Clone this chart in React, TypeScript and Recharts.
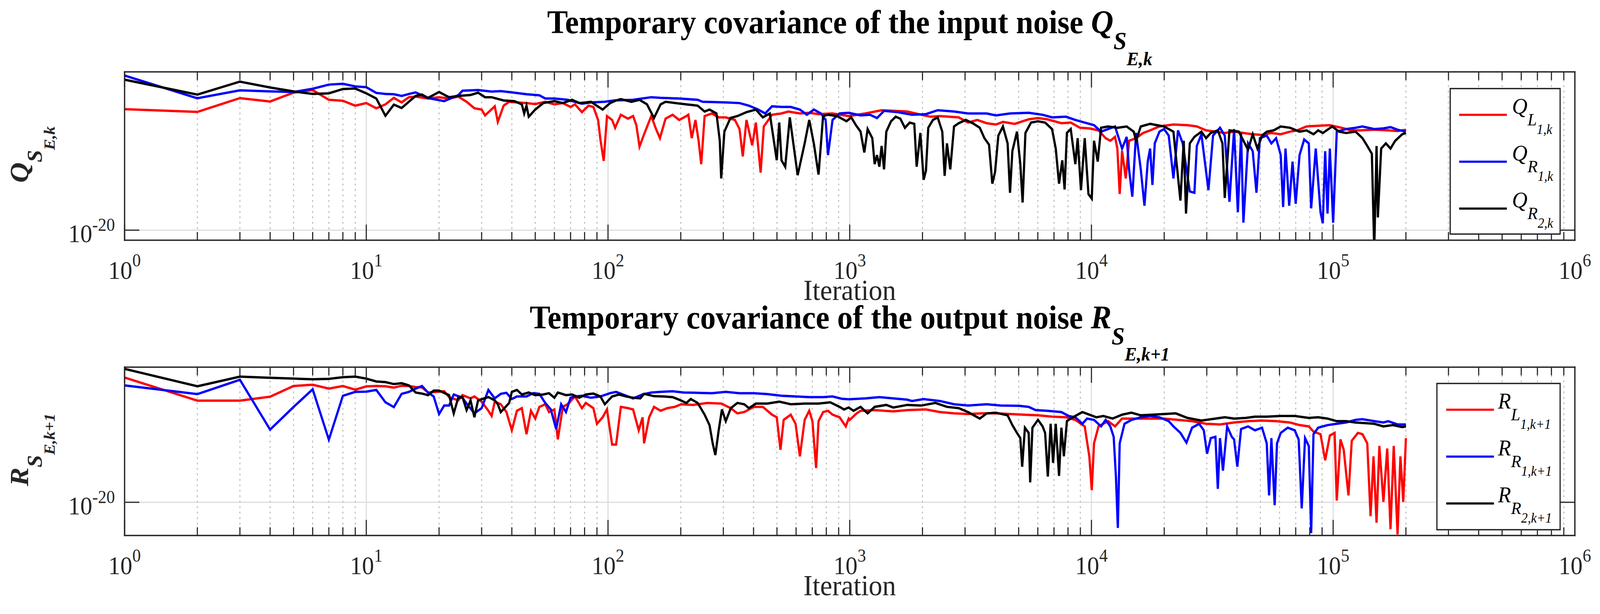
import React from 'react'
import { CartesianGrid, Legend, Line, LineChart, ReferenceLine, XAxis, YAxis } from 'recharts'

// [iteration, log10(value)]
type Pt = [number, number]

const xTicks = [
  1, 2, 3, 4, 5, 6, 7, 8, 9, 10, 20, 30, 40, 50, 60, 70, 80, 90, 100, 200, 300, 400, 500, 600, 700, 800, 900,
  1000, 2000, 3000, 4000, 5000, 6000, 7000, 8000, 9000, 10000, 20000, 30000, 40000, 50000, 60000, 70000, 80000,
  90000, 100000, 200000, 300000, 400000, 500000, 600000, 700000, 800000, 900000, 1000000,
]
const xMajor = [1, 10, 100, 1000, 10000, 100000, 1000000]
const xMajorLabels = ['0', '1', '2', '3', '4', '5', '6']
const xMinor = xTicks.filter((v) => !xMajor.includes(v))
const xInnerMajor = [10, 100, 1000, 10000, 100000]
const yTicks = [1e-20]
const yTickLabels = ['-20']
const qDomain = [Math.pow(10, -20.77), Math.pow(10, -7.82)]
const rDomain = [Math.pow(10, -22.55), Math.pow(10, -9.62)]

const qL1: Pt[] = [
  [1, -10.69], [2, -10.9], [3, -9.84], [4, -10.1], [5, -9.42], [6, -9.22], [7, -9.97], [8, -10.04], [9, -10.42],
  [10, -10.22], [11, -10.62], [12, -10.32], [13, -9.82], [14, -10.17], [15, -9.77], [16, -9.72], [18, -9.87],
  [20, -9.77], [22, -9.87], [24, -9.72], [26, -10.12], [28, -10.62], [30, -10.72], [31, -11.17], [34, -10.47],
  [35, -11.67], [37, -10.42], [39, -10.12], [42, -10.17], [46, -10.22], [50, -10.3], [55, -10.12], [60, -10.32],
  [65, -10.22], [70, -10.52], [73, -10.32], [78, -10.92], [83, -10.42], [87, -10.52], [91, -11.52], [93, -13.02],
  [96, -14.67], [99, -11.22], [104, -11.52], [107, -12.12], [113, -11.12], [121, -11.42], [127, -11.22],
  [131, -11.92], [135, -13.57], [141, -12.62], [151, -11.22], [158, -12.22], [164, -12.92], [173, -11.42],
  [185, -11.12], [197, -11.52], [211, -11.22], [215, -11.12], [222, -12.92], [230, -11.52], [237, -13.12],
  [243, -14.92], [251, -11.22], [269, -11.02], [287, -11.32], [307, -11.32], [335, -11.52], [350, -12.22],
  [361, -14.32], [374, -11.52], [395, -13.47], [409, -11.72], [428, -15.57], [441, -12.02], [457, -11.62],
  [477, -11.12], [522, -11.02], [557, -10.87], [622, -11.02], [680, -10.97], [743, -11.07], [849, -11.02],
  [990, -11.22], [1160, -11.02], [1355, -10.77], [1514, -10.82], [1730, -10.87], [1977, -11.12], [2162, -11.27],
  [2362, -11.22], [2824, -11.32], [3086, -11.72], [3372, -11.52], [3685, -11.77], [4027, -11.87], [4304, -11.67],
  [4812, -11.82], [5500, -11.47], [6010, -11.37], [6570, -11.47], [7510, -11.77], [8210, -11.72], [8970, -12.12],
  [9800, -12.17], [10700, -12.32], [11450, -12.92], [11970, -13.12], [12520, -12.82], [12800, -13.72],
  [13090, -17.22], [13390, -13.92], [13870, -16.02], [14310, -13.12], [15300, -12.92], [16360, -12.52],
  [17490, -12.32], [19110, -12.02], [21840, -11.87], [24960, -11.92], [27290, -12.02], [29810, -12.32],
  [32580, -12.42], [35610, -12.52], [38920, -12.42], [42530, -12.52], [46480, -12.62], [50800, -12.67],
  [55520, -12.52], [60680, -12.62], [66310, -12.42], [70970, -12.32], [77560, -12.02], [86700, -11.97],
  [96900, -11.92], [108300, -12.12], [118400, -12.32], [129400, -12.32], [147900, -12.27], [169000, -12.32],
  [184700, -12.37], [200000, -12.27],
]

const qR1: Pt[] = [
  [1, -8.1], [2, -9.85], [3, -9.24], [4, -9.32], [5, -9.37], [6, -9.12], [7, -8.8], [8, -8.74], [9, -8.94],
  [10, -9.0], [11, -9.44], [12, -9.52], [13, -9.54], [14, -9.67], [15, -9.52], [16, -9.4], [18, -9.84],
  [21, -10.07], [24, -9.62], [25, -9.27], [29, -9.22], [33, -9.34], [36, -9.3], [40, -9.4], [46, -9.54],
  [52, -9.62], [55, -9.87], [60, -9.87], [68, -9.97], [78, -10.27], [85, -10.17], [97, -10.12], [106, -10.02],
  [127, -9.97], [151, -9.77], [165, -9.82], [197, -9.87], [235, -9.97], [246, -10.12], [307, -10.17],
  [350, -10.22], [383, -10.42], [418, -10.72], [447, -11.02], [477, -10.47], [522, -10.52], [570, -10.52],
  [622, -10.72], [665, -11.12], [711, -10.72], [760, -11.02], [795, -11.52], [813, -14.22], [849, -11.52],
  [908, -11.02], [990, -10.97], [1109, -11.17], [1213, -11.12], [1297, -11.37], [1387, -10.82], [1583, -10.92],
  [1809, -11.12], [2067, -11.07], [2311, -10.77], [2701, -10.87], [3086, -11.02], [3685, -11.02], [4027, -11.17],
  [4604, -11.02], [5500, -10.97], [6280, -11.12], [6870, -11.32], [7850, -11.27], [8580, -11.52], [9380, -11.72],
  [10250, -11.92], [10960, -12.42], [11720, -12.22], [12520, -12.02], [13390, -13.72], [13990, -12.82],
  [14310, -15.32], [14760, -17.42], [15300, -12.52], [16000, -15.32], [16570, -18.12], [17100, -14.72],
  [17490, -13.72], [17880, -16.52], [18280, -13.32], [19110, -12.42], [19970, -12.22], [20880, -12.72],
  [21840, -16.02], [22810, -12.32], [23860, -13.32], [25520, -17.02], [26670, -17.12], [27290, -13.52],
  [28510, -12.62], [30480, -16.92], [31850, -12.72], [34040, -12.12], [35610, -12.72], [37240, -17.82],
  [38920, -12.22], [40340, -18.62], [41590, -12.52], [42530, -19.42], [44460, -13.32], [46480, -13.92],
  [48170, -17.12], [49760, -12.92], [53120, -12.72], [55520, -13.32], [58070, -12.92], [60680, -14.22],
  [62100, -18.22], [63510, -13.72], [65790, -18.12], [67920, -14.72], [69980, -17.97], [72610, -14.22],
  [75870, -13.02], [79290, -13.32], [81100, -18.32], [84730, -13.72], [88660, -18.62], [90600, -19.47],
  [92690, -13.92], [94780, -18.72], [96900, -13.72], [100000, -19.42], [103500, -12.42], [113200, -12.22],
  [123800, -12.12], [132200, -12.02], [147900, -12.22], [161400, -12.17], [172700, -12.07], [184700, -12.27],
  [200000, -12.42],
]

const qR2: Pt[] = [
  [1, -8.42], [2, -9.57], [3, -8.57], [4, -9.02], [5, -9.32], [6, -9.52], [7, -9.47], [8, -9.14], [9, -9.1],
  [10, -9.47], [11, -9.87], [12, -11.2], [13, -10.34], [14, -10.6], [15, -10.12], [16, -9.67], [17, -9.57],
  [18, -9.82], [20, -9.37], [22, -9.77], [24, -9.67], [27, -9.6], [29, -9.42], [31, -9.77], [33, -9.77],
  [37, -10.02], [41, -10.07], [44, -10.32], [45, -11.02], [46, -10.42], [47, -11.27], [50, -10.72], [54, -10.22],
  [60, -10.07], [65, -10.22], [71, -9.97], [76, -10.22], [81, -10.17], [85, -10.12], [95, -10.72], [102, -10.22],
  [108, -10.02], [113, -9.92], [125, -10.12], [135, -9.97], [145, -10.32], [155, -11.37], [165, -10.32],
  [173, -10.12], [190, -10.22], [211, -10.32], [235, -10.42], [251, -10.87], [263, -10.72], [281, -11.02],
  [290, -13.12], [294, -16.02], [303, -12.42], [321, -11.37], [343, -11.22], [374, -10.92], [409, -10.72],
  [437, -11.32], [467, -11.02], [499, -14.62], [511, -11.72], [522, -14.62], [541, -15.12], [565, -11.32],
  [609, -15.77], [651, -13.32], [680, -11.52], [711, -13.37], [743, -15.72], [776, -11.22], [813, -11.12],
  [887, -11.22], [970, -11.62], [1014, -11.32], [1061, -11.92], [1109, -12.42], [1149, -14.02], [1186, -12.22],
  [1240, -12.92], [1268, -14.92], [1297, -14.22], [1326, -15.12], [1355, -13.52], [1387, -15.32], [1417, -12.42],
  [1482, -11.62], [1549, -11.27], [1619, -11.42], [1692, -12.12], [1770, -11.72], [1850, -11.82], [1892, -15.12],
  [1960, -12.52], [2022, -16.12], [2067, -15.42], [2113, -12.12], [2209, -11.52], [2311, -11.32], [2415, -12.42],
  [2470, -15.82], [2525, -13.32], [2606, -15.32], [2701, -12.02], [2824, -11.77], [3021, -11.52], [3228, -11.77],
  [3452, -12.12], [3608, -12.92], [3770, -13.42], [3890, -16.42], [3993, -15.52], [4120, -12.72], [4304, -12.02],
  [4500, -13.32], [4604, -17.12], [4708, -13.92], [4920, -12.42], [5079, -14.92], [5191, -17.87], [5332, -12.52],
  [5625, -11.72], [6010, -11.62], [6432, -11.72], [6870, -12.22], [7118, -13.72], [7345, -16.42], [7576, -14.62],
  [7744, -16.87], [7915, -12.52], [8210, -12.22], [8580, -14.92], [8770, -12.92], [9050, -16.92], [9380, -12.92],
  [9720, -17.22], [10030, -17.57], [10250, -13.12], [10620, -14.72], [10960, -12.12], [11720, -12.02],
  [12800, -12.12], [13990, -12.02], [14960, -12.42], [15300, -13.12], [16000, -12.02], [17490, -11.82],
  [18680, -11.92], [19970, -12.02], [21840, -12.42], [22330, -14.22], [23340, -17.72], [24090, -13.12],
  [24620, -18.72], [25520, -13.32], [26670, -12.82], [28510, -12.42], [29810, -12.92], [31170, -12.52],
  [33330, -12.32], [34840, -13.32], [35610, -17.52], [37240, -12.32], [40710, -12.42], [44460, -13.82],
  [46480, -12.62], [48620, -13.72], [50800, -12.72], [53120, -12.42], [56760, -12.32], [60680, -12.02],
  [66310, -12.12], [72610, -12.42], [77560, -12.32], [82920, -12.62], [86700, -12.32], [90600, -12.52],
  [99100, -12.02], [105900, -12.42], [113200, -12.52], [123800, -12.42], [132200, -12.92], [138400, -13.52],
  [144600, -14.12], [147900, -21.5], [151200, -13.52], [153100, -19.02], [158000, -13.72], [165200, -13.32],
  [172700, -13.72], [180600, -13.12], [193100, -12.62], [200000, -12.52],
]

const rL1: Pt[] = [
  [1, -10.42], [2, -12.19], [3, -12.19], [4, -11.89], [5, -11.07], [6, -10.97], [7, -11.27], [8, -11.07],
  [9, -11.35], [10, -11.1], [11, -11.07], [12, -11.09], [13, -11.19], [14, -11.05], [15, -11.07], [16, -11.15],
  [17, -11.17], [18, -11.57], [21, -11.47], [22, -11.92], [24, -12.17], [25, -11.77], [27, -12.02], [28, -11.87],
  [30, -12.27], [32, -12.97], [33, -13.37], [34, -12.27], [36, -12.47], [38, -13.07], [40, -14.47], [42, -12.97],
  [44, -12.77], [46, -14.77], [48, -12.97], [50, -13.57], [52, -12.67], [55, -12.47], [57, -13.07], [60, -12.87],
  [62, -15.17], [65, -12.67], [68, -12.47], [73, -11.87], [78, -12.77], [81, -12.37], [87, -12.77], [90, -13.97],
  [95, -13.47], [99, -12.87], [104, -15.57], [108, -15.57], [113, -12.67], [121, -12.77], [127, -12.87],
  [134, -14.47], [139, -13.47], [141, -15.47], [148, -13.47], [155, -12.67], [165, -12.97], [176, -12.77],
  [189, -12.67], [201, -12.47], [225, -12.52], [257, -12.37], [294, -12.42], [322, -12.77], [343, -13.17],
  [366, -13.07], [401, -12.67], [437, -12.67], [477, -13.27], [499, -13.47], [517, -15.97], [533, -13.67],
  [570, -13.27], [597, -13.97], [622, -16.47], [651, -13.67], [680, -12.97], [701, -13.77], [726, -17.37],
  [743, -13.77], [776, -13.07], [813, -12.97], [849, -13.27], [908, -13.47], [963, -14.17], [990, -13.57],
  [1000, -13.67], [1068, -13.17], [1109, -12.97], [1268, -12.92], [1514, -13.02], [1730, -12.92], [2067, -12.87],
  [2362, -13.07], [2701, -13.17], [3086, -13.22], [3525, -13.17], [4027, -13.17], [4604, -13.22], [5260, -13.27],
  [6010, -13.32], [6870, -13.42], [7850, -13.47], [8580, -13.67], [9380, -14.17], [9800, -16.47], [10030, -19.07],
  [10250, -15.47], [10700, -14.17], [11720, -13.77], [12520, -14.17], [13390, -13.57], [15300, -13.57],
  [17490, -13.57], [19970, -13.57], [22810, -13.67], [26080, -13.77], [29810, -13.97], [34040, -14.02],
  [38920, -13.87], [44460, -13.77], [50800, -13.72], [58070, -13.77], [66310, -13.87], [72610, -14.07],
  [79290, -14.17], [82920, -14.57], [88660, -14.77], [92690, -16.77], [96900, -14.87], [101400, -14.67],
  [103500, -19.87], [107200, -15.17], [110600, -15.97], [115700, -19.47], [119400, -15.27], [126600, -14.67],
  [132200, -14.77], [138400, -15.47], [142800, -21.07], [146900, -16.47], [151200, -21.57], [155300, -15.67],
  [161400, -19.97], [167400, -15.87], [172700, -22.07], [178100, -15.67], [184700, -22.47], [189800, -16.47],
  [195000, -19.97], [200000, -15.07],
]

const rR1: Pt[] = [
  [1, -11.02], [2, -11.69], [3, -10.59], [4, -14.42], [5, -12.68], [6, -11.32], [7, -15.19], [8, -11.82],
  [9, -11.52], [10, -11.5], [11, -11.37], [12, -12.32], [13, -12.69], [14, -11.67], [15, -11.52], [16, -11.27],
  [17, -11.07], [18, -11.57], [19, -11.87], [20, -13.22], [21, -12.57], [22, -12.57], [23, -11.72], [25, -11.97],
  [26, -12.42], [28, -13.17], [30, -12.77], [32, -11.37], [34, -12.02], [36, -11.67], [38, -11.59], [40, -12.07],
  [42, -11.87], [46, -11.87], [49, -11.62], [52, -11.67], [55, -12.37], [58, -12.87], [61, -14.37], [64, -12.47],
  [67, -13.07], [70, -11.97], [73, -11.87], [78, -11.82], [85, -11.97], [93, -11.87], [102, -11.62], [108, -11.52],
  [117, -11.77], [127, -12.02], [139, -11.72], [151, -11.57], [165, -11.52], [185, -11.47], [206, -11.57],
  [235, -11.59], [269, -11.62], [307, -11.52], [350, -11.62], [401, -11.62], [457, -11.69], [522, -11.82],
  [597, -11.87], [680, -11.92], [776, -11.92], [849, -11.87], [928, -12.05], [990, -12.09], [1160, -12.02],
  [1326, -11.92], [1514, -12.02], [1730, -12.12], [1809, -12.22], [2022, -12.07], [2362, -12.22], [2701, -12.47],
  [3086, -12.57], [3685, -12.47], [4210, -12.57], [5030, -12.59], [5500, -12.67], [5876, -12.92], [6570, -12.97],
  [7510, -13.07], [8036, -13.37], [8580, -13.47], [9170, -13.97], [9590, -13.57], [10250, -13.67], [10960, -14.17],
  [11450, -13.67], [11970, -14.17], [12360, -14.97], [12630, -18.07], [12860, -21.97], [13090, -15.47],
  [13700, -13.97], [14640, -13.67], [16000, -13.47], [17490, -13.37], [19110, -13.47], [20880, -13.77],
  [21840, -14.17], [23340, -14.67], [24720, -15.42], [26080, -14.27], [27900, -13.97], [29160, -14.47],
  [30080, -16.27], [31170, -15.07], [32580, -14.97], [33330, -18.97], [34040, -15.07], [35000, -17.57],
  [36420, -14.17], [38080, -14.97], [38920, -15.17], [40140, -17.27], [41590, -14.37], [44460, -14.17],
  [47520, -14.47], [50800, -14.27], [53120, -15.47], [54330, -19.47], [55520, -15.07], [57280, -20.22],
  [58580, -15.47], [60680, -14.67], [64860, -14.27], [69340, -14.47], [72000, -15.17], [74130, -20.47],
  [76520, -15.07], [79290, -15.67], [81100, -22.37], [82920, -14.77], [86700, -14.27], [94780, -14.07],
  [103500, -13.97], [113200, -13.87], [123800, -13.67], [132200, -13.62], [147900, -13.77], [161400, -13.87],
  [169000, -13.77], [184700, -14.02], [200000, -14.02],
]

const rR2: Pt[] = [
  [1, -9.75], [2, -11.09], [3, -10.35], [4, -10.44], [5, -10.5], [6, -10.55], [7, -10.52], [8, -10.39],
  [9, -10.35], [10, -10.5], [11, -10.72], [12, -10.77], [13, -10.92], [14, -10.85], [15, -11.02], [16, -11.57],
  [17, -11.65], [18, -11.77], [19, -11.42], [20, -11.42], [22, -11.77], [23, -13.17], [24, -11.97], [25, -11.92],
  [26, -12.92], [27, -12.17], [28, -13.47], [29, -12.17], [32, -11.92], [34, -12.17], [35, -12.47], [36, -13.07],
  [39, -12.37], [40, -11.52], [42, -11.37], [44, -11.72], [47, -11.57], [50, -11.77], [54, -11.72], [57, -11.62],
  [60, -11.97], [62, -11.57], [67, -11.77], [71, -11.72], [76, -11.97], [81, -11.72], [87, -11.65], [93, -11.87],
  [97, -12.47], [104, -11.87], [111, -11.72], [119, -11.87], [127, -11.97], [136, -12.02], [141, -11.67],
  [155, -11.85], [169, -11.87], [185, -11.92], [197, -12.12], [211, -12.37], [220, -12.07], [235, -12.37],
  [251, -13.27], [263, -14.07], [271, -15.47], [278, -16.37], [287, -14.47], [296, -12.87], [307, -13.77],
  [322, -12.77], [343, -12.37], [366, -12.47], [383, -12.77], [409, -12.42], [457, -12.42], [511, -12.27],
  [570, -12.47], [651, -12.42], [743, -12.42], [831, -12.32], [908, -12.67], [947, -12.87], [990, -12.72],
  [1037, -12.97], [1109, -12.67], [1186, -13.17], [1268, -12.67], [1417, -12.52], [1514, -12.72], [1730, -12.52],
  [1977, -12.57], [2260, -12.37], [2525, -12.67], [2824, -12.77], [3086, -13.07], [3452, -13.57], [3685, -13.17],
  [4027, -13.12], [4500, -13.32], [4708, -14.07], [4920, -14.67], [5079, -15.07], [5170, -17.27], [5306, -14.27],
  [5500, -14.67], [5580, -18.47], [5700, -14.27], [6010, -13.67], [6280, -14.17], [6432, -14.67], [6600, -18.02],
  [6780, -13.97], [6940, -16.97], [7118, -13.97], [7345, -17.97], [7510, -14.27], [7690, -16.47], [7915, -13.77],
  [8210, -13.57], [8770, -13.27], [9170, -13.07], [9800, -13.27], [10480, -13.47], [11200, -13.37],
  [12240, -13.57], [13390, -13.27], [14640, -13.12], [16000, -13.32], [17880, -13.27], [19970, -13.22],
  [22330, -13.17], [24960, -13.52], [28510, -13.72], [32580, -13.57], [35610, -13.47], [38920, -13.57],
  [43480, -13.52], [47520, -13.42], [53120, -13.42], [60680, -13.37], [69340, -13.37], [79290, -13.52],
  [86700, -13.47], [94780, -13.57], [103500, -13.77], [113200, -13.77], [123800, -13.87], [135300, -13.92],
  [147900, -13.97], [161400, -14.17], [176600, -14.07], [193100, -14.22], [200000, -14.17],
]

const FONT = "'Liberation Serif', 'Times New Roman', Times, serif"
const AX = '#262626'

const rows = (pts: Pt[]) => pts.map(([it, lg]) => ({ it, v: Math.pow(10, lg) }))

function XTickBottom(props: any) {
  const { x, y, payload } = props
  const i = xMajor.indexOf(payload.value)
  return (
    <g>
      <line x1={x} x2={x} y1={y} y2={y - (i >= 0 ? 40 : 21)} stroke={AX} strokeWidth={3} />
      {i >= 0 && (
        <text x={x} y={y + 99} textAnchor="middle" fontFamily={FONT} fontSize={65} fill={AX}>
          10
          <tspan dy={-32} fontSize={46}>
            {xMajorLabels[i]}
          </tspan>
        </text>
      )}
    </g>
  )
}

function XTickTop(props: any) {
  const { x, y, payload } = props
  const major = xMajor.includes(payload.value)
  return <line x1={x} x2={x} y1={y} y2={y + (major ? 40 : 21)} stroke={AX} strokeWidth={3} />
}

function YTickLeft(props: any) {
  const { x, y, payload } = props
  const i = yTicks.indexOf(payload.value)
  return (
    <g>
      <line x1={x} x2={x + 40} y1={y} y2={y} stroke={AX} strokeWidth={3} />
      <text x={x - 26} y={y + 31} textAnchor="end" fontFamily={FONT} fontSize={65} fill={AX}>
        10
        <tspan dy={-29} fontSize={46}>
          {yTickLabels[i]}
        </tspan>
      </text>
    </g>
  )
}

function YTickRight(props: any) {
  const { x, y } = props
  return <line x1={x} x2={x - 40} y1={y} y2={y} stroke={AX} strokeWidth={3} />
}

const titleLabel = (kind: string, letter: string, sub2: string) => (p: any) => {
  const vb = p.viewBox || { x: 337, y: 174, width: 3923, height: 10 }
  return (
    <text
      x={vb.x + vb.width / 2}
      y={vb.y + vb.height - 99}
      textAnchor="middle"
      fontFamily={FONT}
      fontWeight="bold"
      fontSize={84}
      fill="#000"
    >
      {`Temporary covariance of the ${kind} noise `}
      <tspan fontStyle="italic">{letter}</tspan>
      <tspan fontStyle="italic" fontSize={64} dy={41}>
        S
      </tspan>
      <tspan fontStyle="italic" fontSize={49} dy={41}>
        {sub2}
      </tspan>
    </text>
  )
}

const yLabel = (letter: string, sub2: string) => (p: any) => {
  const vb = p.viewBox || { x: 217, y: 184, width: 120, height: 431 }
  const bx = vb.x - 141
  const cy = vb.y + vb.height / 2 - 4
  return (
    <text
      transform={`translate(${bx}, ${cy}) rotate(-90)`}
      textAnchor="middle"
      fontFamily={FONT}
      fontWeight="bold"
      fontStyle="italic"
      fontSize={72}
      fill={AX}
    >
      {letter}
      <tspan fontSize={57} dy={37}>
        S
      </tspan>
      <tspan fontSize={43} dy={35}>
        {sub2}
      </tspan>
    </text>
  )
}

const iterLabel = (p: any) => {
  const vb = p.viewBox || { x: 337, y: 615, width: 3923, height: 120 }
  return (
    <text x={vb.x + vb.width / 2} y={vb.y + 153} textAnchor="middle" fontFamily={FONT} fontSize={74} fill={AX}>
      Iteration
    </text>
  )
}

type LegendBox = { left: number; top: number; width: number; height: number; lineX1: number; lineX2: number; textX: number }

const makeLegend = (letter: string, subs: Record<string, [string, string]>, box: LegendBox) => (props: any) => {
  const payload = props.payload || []
  return (
    <svg width={box.width} height={box.height} style={{ display: 'block' }}>
      <rect x={1.75} y={1.75} width={box.width - 3.5} height={box.height - 3.5} fill="#fff" stroke={AX} strokeWidth={3.5} />
      {payload.map((e: any, i: number) => {
        const cy = 69 + i * 120
        const [s1, s2] = subs[e.value] || ['', '']
        return (
          <g key={e.value}>
            <line x1={box.lineX1} x2={box.lineX2} y1={cy} y2={cy} stroke={e.color} strokeWidth={5.5} />
            <text x={box.textX} y={cy - 3} fontFamily={FONT} fontStyle="italic" fontSize={58} fill="#000">
              {letter}
              <tspan fontSize={45} dy={30}>
                {s1}
              </tspan>
              <tspan fontSize={35} dy={22}>
                {s2}
              </tspan>
            </text>
          </g>
        )
      })}
    </svg>
  )
}

type Series = { name: string; color: string; pts: Pt[] }

const qSeries: Series[] = [
  { name: 'QL1', color: '#ff0000', pts: qL1 },
  { name: 'QR1', color: '#0000ff', pts: qR1 },
  { name: 'QR2', color: '#000000', pts: qR2 },
]
const rSeries: Series[] = [
  { name: 'RL1', color: '#ff0000', pts: rL1 },
  { name: 'RR1', color: '#0000ff', pts: rR1 },
  { name: 'RR2', color: '#000000', pts: rR2 },
]

const qSubs: Record<string, [string, string]> = { QL1: ['L', '1,k'], QR1: ['R', '1,k'], QR2: ['R', '2,k'] }
const rSubs: Record<string, [string, string]> = { RL1: ['L', '1,k+1'], RR1: ['R', '1,k+1'], RR2: ['R', '2,k+1'] }

type PanelProps = {
  offsetTop: number
  chartHeight: number
  kind: string
  letter: string
  sub2: string
  series: Series[]
  domain: number[]
  subs: Record<string, [string, string]>
  box: LegendBox
}

function Panel({ offsetTop, chartHeight, kind, letter, sub2, series, domain, subs, box }: PanelProps) {
  const axisLine = { stroke: AX, strokeWidth: 3.5, strokeLinecap: 'square' as const }
  return (
    <div style={{ position: 'absolute', left: 0, top: offsetTop }}>
      <LineChart width={4328} height={chartHeight} margin={{ top: 174, right: 58, bottom: chartHeight - 615 - 120, left: 217 }}>
        <CartesianGrid vertical={false} stroke="#dddddd" strokeWidth={3} />
        {xMinor.map((v) => (
          <ReferenceLine key={`m${v}`} x={v} stroke="#c2c2c2" strokeWidth={3} strokeDasharray="5 9" zIndex={-50} />
        ))}
        {xInnerMajor.map((v) => (
          <ReferenceLine key={`M${v}`} x={v} stroke="#dddddd" strokeWidth={3} zIndex={-50} />
        ))}
        <XAxis
          dataKey="it"
          type="number"
          scale="log"
          domain={[1, 1000000]}
          allowDataOverflow
          ticks={xTicks}
          interval={0}
          tick={<XTickBottom />}
          tickLine={false}
          tickSize={0}
          tickMargin={0}
          height={120}
          axisLine={axisLine}
          label={iterLabel}
        />
        <XAxis
          xAxisId="top"
          orientation="top"
          dataKey="it"
          type="number"
          scale="log"
          domain={[1, 1000000]}
          allowDataOverflow
          ticks={xTicks}
          interval={0}
          tick={<XTickTop />}
          tickLine={false}
          tickSize={0}
          tickMargin={0}
          height={10}
          axisLine={axisLine}
          label={titleLabel(kind, letter, sub2)}
        />
        <YAxis
          type="number"
          scale="log"
          domain={domain}
          allowDataOverflow
          ticks={yTicks}
          interval={0}
          tick={<YTickLeft />}
          tickLine={false}
          tickSize={0}
          tickMargin={0}
          width={120}
          axisLine={axisLine}
          label={yLabel(letter, sub2)}
        />
        <YAxis
          yAxisId="r"
          orientation="right"
          type="number"
          scale="log"
          domain={domain}
          allowDataOverflow
          ticks={yTicks}
          interval={0}
          tick={<YTickRight />}
          tickLine={false}
          tickSize={0}
          tickMargin={0}
          width={10}
          axisLine={axisLine}
        />
        {series.map((s) => (
          <Line
            key={s.name}
            name={s.name}
            data={rows(s.pts)}
            dataKey="v"
            type="linear"
            stroke={s.color}
            strokeWidth={6}
            dot={false}
            activeDot={false}
            isAnimationActive={false}
          />
        ))}
        <Legend
          layout="horizontal"
          verticalAlign="middle"
          align="center"
          content={makeLegend(letter, subs, box)}
          wrapperStyle={{ left: box.left, top: box.top, width: box.width, height: box.height }}
        />
      </LineChart>
    </div>
  )
}

export default function App() {
  // the figure is laid out at 4328x1572 and fitted to whatever window the page gets
  const sx = (typeof window !== 'undefined' ? window.innerWidth : 4328) / 4328
  const sy = (typeof window !== 'undefined' ? window.innerHeight : 1572) / 1572
  return (
    <div style={{ position: 'absolute', left: 0, top: 0, width: 4328, height: 1572, overflow: 'hidden' }}>
      <div
        style={{
          position: 'absolute',
          left: 0,
          top: 0,
          width: 4328,
          height: 1572,
          background: '#fff',
          transform: `scale(${sx}, ${sy})`,
          transformOrigin: '0 0',
        }}
      >
        <Panel
          offsetTop={0}
          chartHeight={786}
          kind="input"
          letter="Q"
          sub2="E,k"
          series={qSeries}
          domain={qDomain}
          subs={qSubs}
          box={{ left: 3921, top: 225, width: 301, height: 376, lineX1: 26, lineX2: 155, textX: 169 }}
        />
        <Panel
          offsetTop={756}
          chartHeight={816}
          kind="output"
          letter="R"
          sub2="E,k+1"
          series={rSeries}
          domain={rDomain}
          subs={rSubs}
          box={{ left: 3885, top: 224, width: 337, height: 378, lineX1: 27, lineX2: 156, textX: 167 }}
        />
      </div>
    </div>
  )
}
